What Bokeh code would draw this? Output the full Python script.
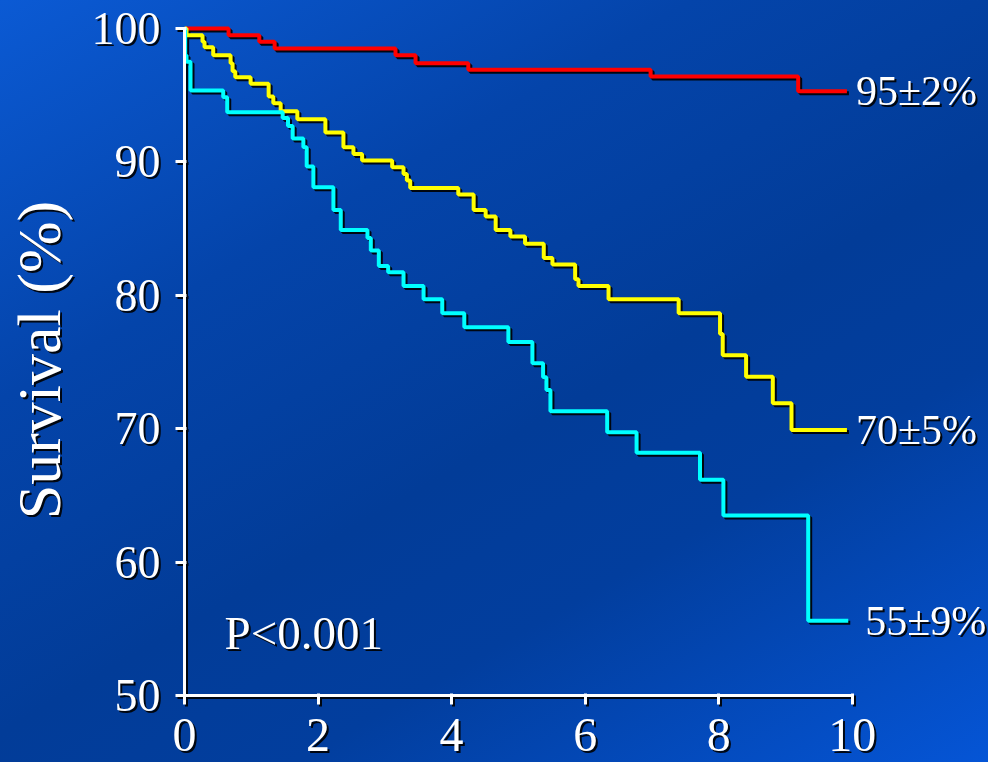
from bokeh.plotting import figure
from bokeh.models import Range1d, FixedTicker, Label, InlineStyleSheet
from bokeh.embed import file_html
from bokeh.resources import INLINE

# Kaplan-Meier curves: time (years) of each drop and survival (%) after it.
# The last pair repeats the final value at the end of follow-up.
red_t = [0, 0.66, 1.12, 1.35, 3.16, 3.46, 4.25, 6.98, 9.19, 9.92]
red_s = [100, 99.5, 99.0, 98.5, 98.0, 97.4, 96.9, 96.4, 95.3, 95.3]

yellow_t = [0, 0.03, 0.27, 0.30, 0.43, 0.69, 0.72, 0.76, 0.99, 1.26, 1.33, 1.44,
            1.69, 2.11, 2.38, 2.53, 2.66, 3.11, 3.28, 3.33, 3.38, 4.10, 4.33,
            4.51, 4.66, 4.88, 5.10, 5.38, 5.51, 5.85, 5.90, 6.35, 7.40, 8.02,
            8.06, 8.41, 8.81, 9.09, 9.92]
yellow_s = [100, 99.5, 99.0, 98.6, 98.0, 97.4, 96.8, 96.35, 95.85, 94.9, 94.4, 93.8,
            93.2, 92.2, 91.1, 90.6, 90.1, 89.6, 89.1, 88.6, 88.05, 87.55, 86.4,
            85.9, 84.9, 84.4, 83.86, 82.8, 82.3, 81.2, 80.7, 79.7, 78.66, 77.1,
            75.5, 73.9, 71.9, 69.9, 69.9]

cyan_t = [0, 0.01, 0.03, 0.09, 0.58, 0.64, 1.47, 1.55, 1.62, 1.78, 1.83, 1.93,
          2.23, 2.34, 2.74, 2.79, 2.91, 3.05, 3.28, 3.58, 3.86, 4.19, 4.85,
          5.21, 5.37, 5.42, 5.48, 6.33, 6.77, 7.72, 8.07, 9.34, 9.94]
cyan_s = [100, 98.0, 97.5, 95.35, 94.85, 93.73, 93.3, 92.7, 91.75, 91.1, 89.65, 88.1,
          86.4, 84.9, 84.3, 83.36, 82.2, 81.73, 80.7, 79.7, 78.66, 77.6, 76.5,
          74.9, 73.86, 72.9, 71.3, 69.74, 68.2, 66.17, 63.5, 55.6, 55.6]

end_labels = ["95\u00b12%", "70\u00b15%", "55\u00b19%"]
x_ticks = [0, 2, 4, 6, 8, 10]
y_ticks = [50, 60, 70, 80, 90, 100]
p_value_text = "P<0.001"

SERIF = "Liberation Serif"
GRADIENT = ("linear-gradient(150deg, #0b5ad4 0%, #0444aa 30%, #023c98 55%, "
            "#023e9e 70%, #0555d6 100%)")

p = figure(width=988, height=762, output_backend="svg", toolbar_location=None,
           x_range=Range1d(0, 12.04), y_range=Range1d(50, 100.3),
           min_border_left=184, min_border_right=0, min_border_top=24,
           min_border_bottom=67)
p.background_fill_alpha = 0
p.border_fill_alpha = 0
p.outline_line_color = None
p.xgrid.visible = False
p.ygrid.visible = False

series = [(red_t, red_s, "#ff0000", 9), (yellow_t, yellow_s, "#ffff00", 9),
          (cyan_t, cyan_s, "#00ffff", 17)]
for (t, s, color, off), txt in zip(series, end_labels):
    p.step(t, s, mode="after", line_color=color, line_width=4)
    p.add_layout(Label(x=t[-1], y=s[-1], text=txt, x_offset=off,
                       text_baseline="middle", text_align="left",
                       text_color="white", text_font=SERIF,
                       text_font_size="42px"))

p.add_layout(Label(x=0.6, y=54.7, text=p_value_text, text_baseline="middle",
                   text_align="left", text_color="white", text_font=SERIF,
                   text_font_size="47px"))

for ax in (p.xaxis, p.yaxis):
    ax.axis_line_color = "white"
    ax.axis_line_width = 3
    ax.major_tick_line_color = "white"
    ax.major_tick_line_width = 3
    ax.minor_tick_line_color = None
    ax.major_label_text_color = "white"
    ax.major_label_text_font = SERIF
    ax.major_label_text_font_size = "46px"
    ax.major_tick_in = 2
    ax.major_tick_out = 9

p.xaxis.ticker = FixedTicker(ticks=x_ticks)
p.xaxis.bounds = (0, 10)
p.xaxis.major_label_standoff = 14
p.xaxis.major_label_text_font_size = "48px"

p.yaxis.ticker = FixedTicker(ticks=y_ticks)
p.yaxis.bounds = (50, 100)
p.yaxis.major_label_standoff = 15
p.yaxis.axis_label = "Survival (%)"
p.yaxis.axis_label_text_color = "white"
p.yaxis.axis_label_text_font = SERIF
p.yaxis.axis_label_text_font_size = "62px"
p.yaxis.axis_label_text_font_style = "normal"
p.yaxis.axis_label_standoff = 16

# dark drop shadow under every line and text; the plot itself is transparent
# so the blue page gradient shows through
p.styles = {"filter": "drop-shadow(2px 2px 0.6px rgba(0,0,0,0.9))"}
p.stylesheets = [InlineStyleSheet(css=":host { background: transparent !important; }")]

html = file_html(p, INLINE)
page_css = ("<style>html, body { margin: 0; min-height: 762px; background: "
            + GRADIENT + " !important; }</style>")
html = html.replace("</head>", page_css + "</head>", 1)
open("out.html", "w").write(html)
